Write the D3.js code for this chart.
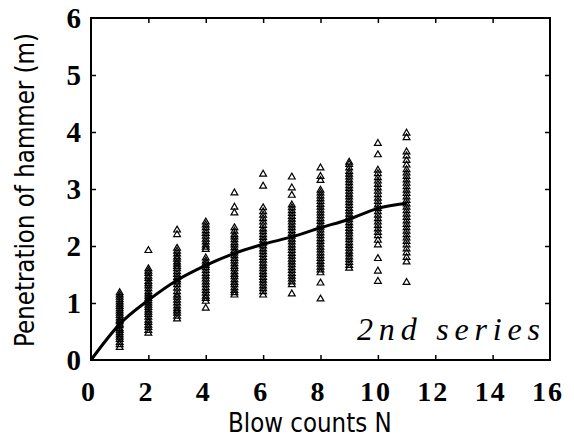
<!DOCTYPE html>
<html>
<head>
<meta charset="utf-8">
<script src="https://cdn.jsdelivr.net/npm/d3@7"></script>
<style>
  body { margin: 0; background: #fff; }
  svg { display: block; }
  .serif { font-family: "Liberation Serif", "Times New Roman", serif; }
  .sans { font-family: "DejaVu Sans", sans-serif; }
</style>
</head>
<body>
<svg id="chart" width="574" height="443"></svg>
<script>
// blow counts N (x) for each column of measurements
const blowCounts = [1, 2, 3, 4, 5, 6, 7, 8, 9, 10, 11];

const pen1 = [0.22, 0.27, 0.31, 0.36, 0.40, 0.44, 0.48, 0.52, 0.55, 0.60, 0.63, 0.67, 0.70, 0.74, 0.78, 0.82, 0.86, 0.90, 0.94, 0.98, 1.02, 1.06, 1.10, 1.14, 1.18];
const pen2 = [0.47, 0.52, 0.57, 0.61, 0.66, 0.70, 0.75, 0.80, 0.84, 0.88, 0.92, 0.96, 1.00, 1.04, 1.08, 1.12, 1.16, 1.20, 1.25, 1.30, 1.34, 1.38, 1.43, 1.47, 1.52, 1.56, 1.60, 1.92];
const pen3 = [0.72, 0.77, 0.82, 0.86, 0.90, 0.95, 1.00, 1.05, 1.10, 1.14, 1.20, 1.26, 1.32, 1.37, 1.41, 1.45, 1.50, 1.55, 1.60, 1.64, 1.68, 1.72, 1.77, 1.81, 1.86, 1.91, 1.96, 2.20, 2.28];
const pen4 = [0.91, 1.03, 1.08, 1.12, 1.17, 1.22, 1.27, 1.32, 1.37, 1.42, 1.47, 1.52, 1.57, 1.62, 1.66, 1.70, 1.74, 1.79, 1.94, 1.98, 2.02, 2.07, 2.12, 2.17, 2.22, 2.27, 2.32, 2.37, 2.42];
const pen5 = [1.14, 1.18, 1.22, 1.27, 1.32, 1.36, 1.41, 1.46, 1.50, 1.55, 1.60, 1.64, 1.69, 1.74, 1.78, 1.83, 1.88, 1.92, 1.97, 2.02, 2.06, 2.11, 2.16, 2.20, 2.26, 2.32, 2.58, 2.68, 2.93];
const pen6 = [1.14, 1.20, 1.25, 1.30, 1.35, 1.40, 1.45, 1.50, 1.55, 1.60, 1.65, 1.70, 1.75, 1.80, 1.85, 1.90, 1.95, 2.00, 2.05, 2.10, 2.15, 2.20, 2.25, 2.30, 2.36, 2.42, 2.48, 2.54, 2.60, 2.67, 3.05, 3.26];
const pen7 = [1.16, 1.32, 1.37, 1.42, 1.47, 1.52, 1.57, 1.62, 1.67, 1.72, 1.77, 1.82, 1.87, 1.92, 1.97, 2.02, 2.07, 2.12, 2.17, 2.22, 2.27, 2.32, 2.37, 2.42, 2.47, 2.52, 2.57, 2.62, 2.67, 2.72, 2.89, 3.02, 3.21];
const pen8 = [1.07, 1.35, 1.53, 1.58, 1.63, 1.68, 1.73, 1.78, 1.83, 1.88, 1.93, 1.98, 2.03, 2.08, 2.13, 2.18, 2.23, 2.28, 2.33, 2.38, 2.43, 2.48, 2.53, 2.58, 2.63, 2.68, 2.73, 2.78, 2.83, 2.88, 2.93, 2.98, 3.15, 3.22, 3.37];
const pen9 = [1.61, 1.66, 1.71, 1.76, 1.81, 1.86, 1.91, 1.96, 2.01, 2.06, 2.11, 2.16, 2.21, 2.26, 2.31, 2.36, 2.41, 2.46, 2.51, 2.56, 2.61, 2.66, 2.71, 2.76, 2.81, 2.86, 2.91, 2.96, 3.01, 3.06, 3.11, 3.16, 3.21, 3.26, 3.31, 3.37, 3.43, 3.47];
const pen10 = [1.38, 1.56, 1.78, 2.02, 2.10, 2.18, 2.24, 2.30, 2.36, 2.42, 2.48, 2.54, 2.60, 2.66, 2.72, 2.78, 2.84, 2.90, 2.96, 3.02, 3.08, 3.14, 3.20, 3.27, 3.33, 3.60, 3.80];
const pen11 = [1.36, 1.72, 1.80, 1.88, 1.95, 2.02, 2.08, 2.14, 2.20, 2.26, 2.32, 2.38, 2.44, 2.50, 2.56, 2.62, 2.68, 2.74, 2.80, 2.86, 2.92, 2.98, 3.04, 3.10, 3.16, 3.22, 3.28, 3.34, 3.42, 3.50, 3.58, 3.65, 3.90, 3.98];
const penetration = [pen1, pen2, pen3, pen4, pen5, pen6, pen7, pen8, pen9, pen10, pen11];

// mean curve
const curveN = [0, 1, 2, 3, 4, 5, 6, 7, 8, 9, 10, 11];
const curvePen = [0, 0.63, 1.05, 1.40, 1.66, 1.87, 2.03, 2.16, 2.32, 2.47, 2.66, 2.75];

const xTicks = [0, 2, 4, 6, 8, 10, 12, 14, 16];
const yTicks = [0, 1, 2, 3, 4, 5, 6];

const svg = d3.select("#chart");
const mLeft = 91, mRight = 550, mTop = 18, mBottom = 360;

const x = d3.scaleLinear().domain([0, 16]).range([mLeft, mRight]);
const y = d3.scaleLinear().domain([0, 6]).range([mBottom, mTop]);

// points
const pts = [];
blowCounts.forEach((n, i) => penetration[i].forEach(v => pts.push({ n, v })));

const tri = d3.symbol().type(d3.symbolTriangle).size(20);
svg.append("g")
  .selectAll("path")
  .data(pts)
  .join("path")
  .attr("d", tri)
  .attr("transform", d => `translate(${x(d.n)},${y(d.v)})`)
  .attr("fill", "none")
  .attr("stroke", "#000")
  .attr("stroke-width", 1.2);

// curve
const line = d3.line()
  .x((d, i) => x(curveN[i]))
  .y(d => y(d))
  .curve(d3.curveMonotoneX);
svg.append("path")
  .attr("d", line(curvePen))
  .attr("fill", "none")
  .attr("stroke", "#000")
  .attr("stroke-width", 3);

// frame with inward ticks on all sides
const tl = 5;
svg.append("g")
  .attr("transform", `translate(0,${mBottom})`)
  .call(d3.axisBottom(x).tickValues(xTicks.slice(1, -1)).tickSize(-tl).tickFormat(""))
  .call(g => g.select(".domain").remove());
svg.append("g")
  .attr("transform", `translate(0,${mTop})`)
  .call(d3.axisTop(x).tickValues(xTicks.slice(1, -1)).tickSize(-tl).tickFormat(""))
  .call(g => g.select(".domain").remove());
svg.append("g")
  .attr("transform", `translate(${mLeft},0)`)
  .call(d3.axisLeft(y).tickValues(yTicks.slice(1, -1)).tickSize(-tl).tickFormat(""))
  .call(g => g.select(".domain").remove());
svg.append("g")
  .attr("transform", `translate(${mRight},0)`)
  .call(d3.axisRight(y).tickValues(yTicks.slice(1, -1)).tickSize(-tl).tickFormat(""))
  .call(g => g.select(".domain").remove());
svg.selectAll(".tick line").attr("stroke", "#000").attr("stroke-width", 1.5);

svg.append("rect")
  .attr("x", mLeft).attr("y", mTop)
  .attr("width", mRight - mLeft).attr("height", mBottom - mTop)
  .attr("fill", "none").attr("stroke", "#000").attr("stroke-width", 2);

// tick labels
svg.append("g")
  .attr("class", "serif")
  .selectAll("text")
  .data(xTicks)
  .join("text")
  .attr("x", d => x(d) - 2)
  .attr("y", 401)
  .attr("text-anchor", "middle")
  .style("font-size", "28px")
  .style("font-weight", "bold")
  .style("letter-spacing", "2px")
  .text(d => d);
svg.append("g")
  .attr("class", "serif")
  .selectAll("text")
  .data(yTicks)
  .join("text")
  .attr("x", 81)
  .attr("y", d => y(d) + 10)
  .attr("text-anchor", "end")
  .style("font-size", "29px")
  .style("font-weight", "bold")
  .text(d => d);

// axis titles (narrow font stretched tall, like the original condensed face)
svg.append("text")
  .attr("class", "sans")
  .attr("transform", "translate(228,432) scale(1,1.17)")
  .style("font-size", "23px")
  .text("Blow counts N");
svg.append("text")
  .attr("class", "sans")
  .attr("transform", "translate(34,347) rotate(-90) scale(1,1.17)")
  .style("font-size", "23px")
  .text("Penetration of hammer (m)");

// annotation
svg.append("text")
  .attr("class", "serif")
  .attr("x", 357).attr("y", 340)
  .style("font-style", "italic")
  .style("font-size", "32px")
  .attr("textLength", 183)
  .attr("lengthAdjust", "spacing")
  .text("2nd series");
</script>
</body>
</html>
